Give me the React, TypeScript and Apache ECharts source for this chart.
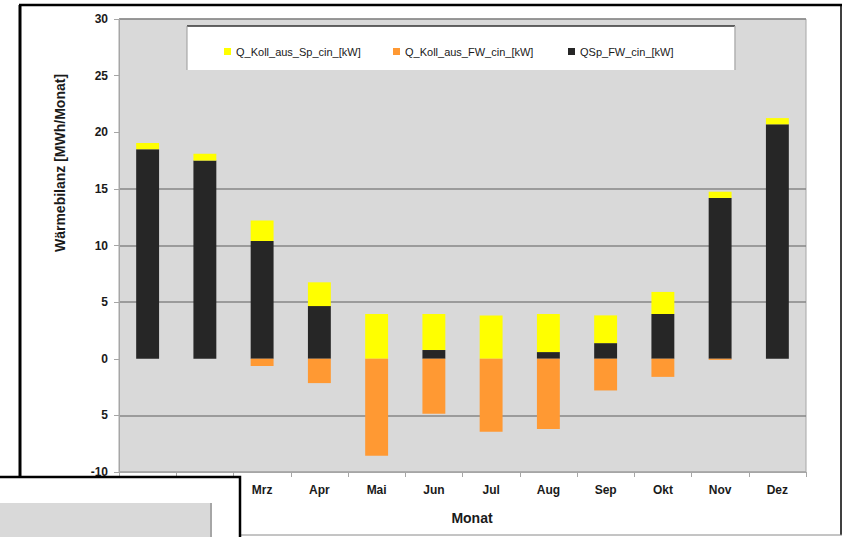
import React, { useEffect, useRef } from "react";
import * as echarts from "echarts";

// Monthly heat balance, stacked columns
const months = ["Jan", "Feb", "Mrz", "Apr", "Mai", "Jun", "Jul", "Aug", "Sep", "Okt", "Nov", "Dez"];
const qSpFwCin = [18.5, 17.5, 10.4, 4.65, 0, 0.77, 0, 0.59, 1.38, 3.95, 14.2, 20.7];
const qKollAusSpCin = [0.55, 0.6, 1.8, 2.1, 3.95, 3.18, 3.82, 3.36, 2.45, 1.95, 0.55, 0.55];
const qKollAusFwCin = [0, 0, -0.65, -2.15, -8.56, -4.85, -6.44, -6.2, -2.8, -1.6, -0.1, 0];
const yTickLabels = ["-10", "5", "0", "5", "10", "15", "20", "25", "30"];

const NAME_SP = "Q_Koll_aus_Sp_cin_[kW]";
const NAME_FW = "Q_Koll_aus_FW_cin_[kW]";
const NAME_QSP = "QSp_FW_cin_[kW]";

const FONT = "'Liberation Sans', Arial, sans-serif";
const GRID_LINE = "#868686";
const NONE = "rgba(0,0,0,0)";

export default function App() {
  const ref = useRef<HTMLDivElement>(null);

  useEffect(() => {
    if (!ref.current) return;
    const chart = echarts.init(ref.current, undefined, { renderer: "svg" });

    const legendItem = (name: string, left: number) => ({
      data: [name],
      left,
      top: 41,
      itemWidth: 7,
      itemHeight: 7,
      icon: "rect",
      z: 10,
      textStyle: { fontFamily: FONT, fontSize: 11, color: "#1a1a1a" },
    });

    chart.setOption({
      animation: false,
      backgroundColor: "#ffffff",
      grid: {
        left: 119,
        right: 37,
        top: 19,
        bottom: 65,
        show: true,
        backgroundColor: "#d9d9d9",
        borderColor: "#a6a6a6",
        borderWidth: 1,
      },
      legend: [
        legendItem(NAME_SP, 219),
        legendItem(NAME_FW, 388),
        legendItem(NAME_QSP, 563),
      ],
      xAxis: {
        type: "category",
        data: months,
        axisLine: { onZero: false, lineStyle: { color: "#a6a6a6", width: 1 } },
        axisTick: { show: true, length: 5, alignWithLabel: false, lineStyle: { color: "#a6a6a6" } },
        axisLabel: {
          interval: 0,
          margin: 12,
          fontFamily: FONT,
          fontSize: 12,
          fontWeight: "bold",
          color: "#1a1a1a",
        },
      },
      yAxis: {
        type: "value",
        min: -10,
        max: 30,
        interval: 5,
        axisLine: { show: true, lineStyle: { color: "#a6a6a6", width: 1 } },
        axisTick: { show: true, length: 5, lineStyle: { color: "#a6a6a6" } },
        axisLabel: {
          margin: 11,
          fontFamily: FONT,
          fontSize: 12,
          fontWeight: "bold",
          color: "#1a1a1a",
          formatter: (_v: number, i: number) => yTickLabels[i],
        },
        splitLine: {
          show: true,
          lineStyle: {
            width: 1.5,
            color: ["#a6a6a6", GRID_LINE, NONE, GRID_LINE, GRID_LINE, GRID_LINE, NONE, NONE, GRID_LINE],
          },
        },
      },
      series: [
        {
          name: NAME_QSP,
          type: "bar",
          stack: "bilanz",
          barWidth: "40%",
          itemStyle: { color: "#262626" },
          data: qSpFwCin,
        },
        {
          name: NAME_SP,
          type: "bar",
          stack: "bilanz",
          barWidth: "40%",
          itemStyle: { color: "#ffff00" },
          data: qKollAusSpCin,
        },
        {
          name: NAME_FW,
          type: "bar",
          stack: "bilanz",
          barWidth: "40%",
          itemStyle: { color: "#ff9933" },
          data: qKollAusFwCin,
        },
      ],
      graphic: [
        // legend panel
        { type: "rect", z: 3, shape: { x: 187, y: 26, width: 548, height: 44 }, style: { fill: "#ffffff" } },
        { type: "line", z: 4, shape: { x1: 187, y1: 26, x2: 735, y2: 26 }, style: { stroke: "#333333", lineWidth: 1.5 } },
        { type: "line", z: 4, shape: { x1: 187, y1: 26, x2: 187, y2: 70 }, style: { stroke: "#9a9a9a", lineWidth: 1 } },
        { type: "line", z: 4, shape: { x1: 735, y1: 26, x2: 735, y2: 70 }, style: { stroke: "#b0b0b0", lineWidth: 1.5 } },
        // axis titles
        {
          type: "text",
          z: 5,
          x: 60,
          y: 163,
          rotation: Math.PI / 2,
          style: {
            text: "Wärmebilanz [MWh/Monat]",
            font: `bold 14px ${FONT}`,
            fill: "#1a1a1a",
            align: "center",
            verticalAlign: "middle",
          },
        },
        {
          type: "text",
          z: 5,
          x: 472,
          y: 518,
          style: {
            text: "Monat",
            font: `bold 14px ${FONT}`,
            fill: "#1a1a1a",
            align: "center",
            verticalAlign: "middle",
          },
        },
        // outer chart frame
        { type: "line", z: 50, shape: { x1: 19, y1: 5, x2: 842, y2: 5 }, style: { stroke: "#000000", lineWidth: 2.5 } },
        { type: "line", z: 50, shape: { x1: 20, y1: 5, x2: 20, y2: 537 }, style: { stroke: "#000000", lineWidth: 3 } },
        { type: "line", z: 50, shape: { x1: 841, y1: 5, x2: 841, y2: 535 }, style: { stroke: "#000000", lineWidth: 1.5 } },
        { type: "line", z: 50, shape: { x1: 19, y1: 535, x2: 842, y2: 535 }, style: { stroke: "#8a8a8a", lineWidth: 1 } },
        // overlapping window in the lower left corner
        { type: "rect", z: 200, shape: { x: -4, y: 477, width: 244, height: 70 }, style: { fill: "#ffffff", stroke: "#000000", lineWidth: 2.5 } },
        { type: "rect", z: 201, shape: { x: 0, y: 503, width: 211, height: 40 }, style: { fill: "#d9d9d9" } },
        { type: "line", z: 202, shape: { x1: 211, y1: 503, x2: 211, y2: 537 }, style: { stroke: "#a6a6a6", lineWidth: 2 } },
      ],
    });

    return () => chart.dispose();
  }, []);

  return (
    <div
      ref={ref}
      style={{ position: "fixed", left: 0, top: 0, width: 843, height: 537, background: "#ffffff" }}
    />
  );
}
